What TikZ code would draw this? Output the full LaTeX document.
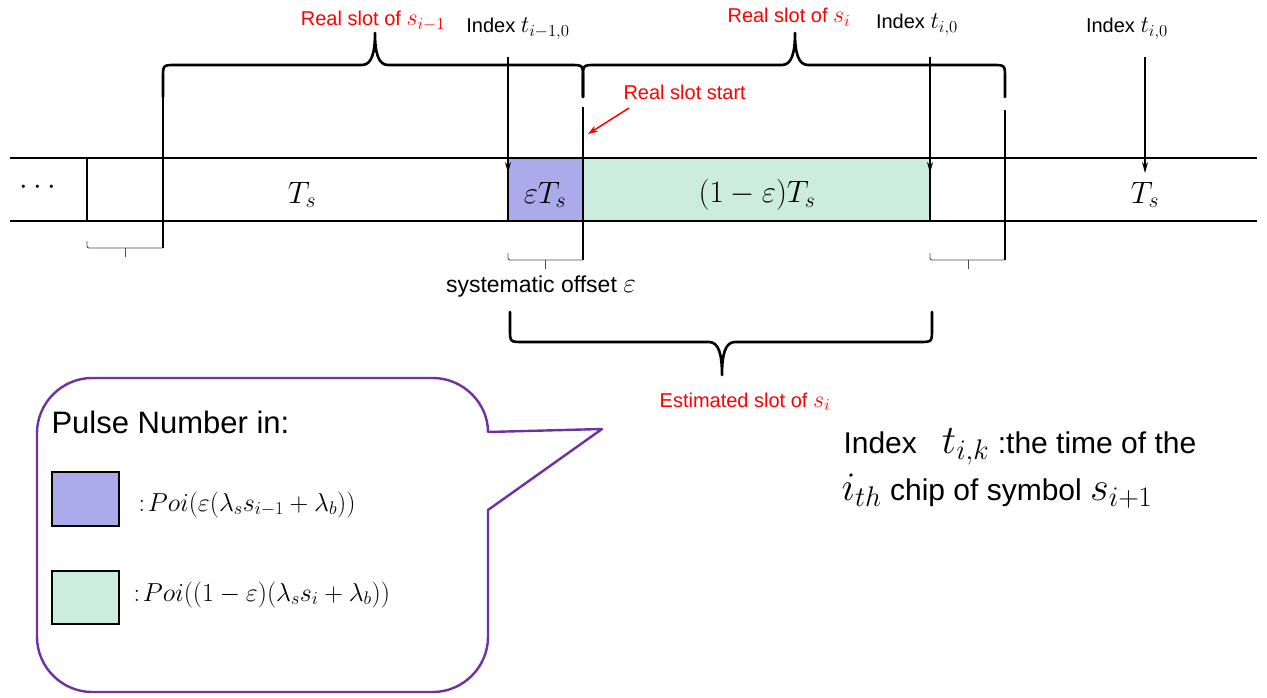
\RequirePackage{fix-cm}
\documentclass[tikz,border=0pt]{standalone}
\usepackage{fontspec}
\setmainfont{Liberation Sans}
\usetikzlibrary{arrows.meta}
\definecolor{epsfill}{RGB}{171,170,234}
\definecolor{restfill}{RGB}{204,236,221}
\definecolor{bubbleline}{RGB}{112,48,160}
% math a little larger than the text around it
\newcommand{\mth}[2][1.2]{\scalebox{#1}{$#2$}}
\tikzset{
  axis line/.style={line width=1.6pt},
  brace line/.style={line width=2.6pt, line join=round, line cap=round},
  bracket line/.style={line width=0.9pt, black!70, rounded corners=2pt},
  index arrow/.style={-{Stealth[length=11pt,width=6pt]}, line width=1.3pt},
  small label/.style={anchor=base, font=\fontsize{20}{24}\selectfont},
  red label/.style={small label, text=red},
  slot label/.style={font=\fontsize{31}{34}\selectfont},
  formula/.style={anchor=base west, font=\fontsize{26}{30}\selectfont},
  note/.style={anchor=base west, font=\fontsize{30}{34}\selectfont},
}

\begin{document}
\begin{tikzpicture}[x=1pt,y=-1pt]
\useasboundingbox (0,0) rectangle (1267,698);
% slot fills
\fill[epsfill] (508,158) rectangle (583,221);
\fill[restfill] (583,158) rectangle (930,221);
% time line
\draw[axis line] (10,158) -- (1257,158);
\draw[axis line] (10,221) -- (1257,221);
\draw[line width=2.4pt] (87,158) -- (87,221);
\draw[axis line] (508,158) -- (508,221);
\draw[axis line] (930,158) -- (930,221);
% real slot borders
\draw[line width=1.4pt] (163,97) -- (163,248);
\draw[line width=1.4pt] (583,107) -- (583,260);
\draw[line width=1.4pt] (1005,110) -- (1005,260);
\node[slot label] (dots) at (38,188) {$\cdots$};
\node[slot label] (tsprev) at (302,195) {$T_s$};
\node[slot label] (tseps) at (545,195) {$\varepsilon T_s$};
\node[slot label] (tsrest) at (757,195) {$(1-\varepsilon)T_s$};
\node[slot label] (tsnext) at (1145,195) {$T_s$};
% braces of the real slots
\draw[brace line] (163,97) -- (163,78) .. controls (163,65) .. (176,65) -- (362,65)
  .. controls (372,65) and (375,52) .. (375,33) .. controls (375,52) and (378,65) .. (388,65)
  -- (570,65) .. controls (583,65) .. (583,78) -- (583,97);
\draw[brace line] (583,97) -- (583,78) .. controls (583,65) .. (596,65) -- (782,65)
  .. controls (792,65) and (795,52) .. (795,33) .. controls (795,52) and (798,65) .. (808,65)
  -- (992,65) .. controls (1005,65) .. (1005,78) -- (1005,97);
\node[red label] (realprev) at (373,26) {Real slot of \mth{s_{i-1}}};
\node[red label] (realcur) at (789,23) {Real slot of \mth{s_i}};
% index arrows
\node[small label] (idxprev) at (518,33) {Index \mth{t_{i-1,0}}};
\node[small label] (idxcur) at (917,29) {Index \mth{t_{i,0}}};
\node[small label] (idxnext) at (1127,33) {Index \mth{t_{i,0}}};
\coordinate (aprev) at (508,57);
\coordinate (eprev) at (508,173);
\coordinate (acur) at (930,57);
\coordinate (ecur) at (930,173);
\coordinate (anext) at (1145,57);
\coordinate (enext) at (1145,173);
\draw[index arrow] (aprev) -- (eprev);
\draw[index arrow] (acur) -- (ecur);
\draw[index arrow] (anext) -- (enext);
% real slot start
\node[red label, anchor=base west] (slotstart) at (620,100) {Real slot start};
\coordinate (rsfrom) at (629,108);
\coordinate (rsto) at (588,134);
\draw[red, line width=1.5pt, -{Stealth[length=10pt,width=7pt]}] (rsfrom) -- (rsto);
% small brackets
\draw[bracket line] (87,241) -- (87,248) -- (163,248);
\draw[bracket line] (125,248) -- (125,257);
\draw[bracket line] (508,253) -- (508,260) -- (583,260);
\draw[bracket line] (545,260) -- (545,269);
\draw[bracket line] (930,253) -- (930,260) -- (1005,260);
\draw[bracket line] (968,260) -- (968,269);
\node[anchor=base, font=\fontsize{23}{26}\selectfont] (offset) at (541,292) {systematic offset \mth{\varepsilon}};
% estimated slot
\draw[brace line] (510,312) -- (510,329) .. controls (510,342) .. (523,342) -- (709,342)
  .. controls (719,342) and (722,355) .. (722,375) .. controls (722,355) and (725,342) .. (735,342)
  -- (919,342) .. controls (932,342) .. (932,329) -- (932,312);
\node[red label] (estimated) at (745,407) {Estimated slot of \mth{s_i}};
% legend bubble
\draw[bubbleline, line width=2.4pt, line join=round]
  (37,433) .. controls (37,403) and (62,378) .. (92,378) -- (433,378)
  .. controls (463,378) and (488,403) .. (488,432) -- (602,429) -- (488,510) -- (488,637)
  .. controls (488,667) and (463,692) .. (433,692) -- (92,692)
  .. controls (62,692) and (37,667) .. (37,637) -- cycle;
\node[anchor=base west, font=\fontsize{31}{36}\selectfont] (pulse) at (48,433) {Pulse Number in:};
\draw[fill=epsfill, line width=1.6pt] (52,472) rectangle (119,526);
\draw[fill=restfill, line width=1.6pt] (52,571) rectangle (119,624);
\node[formula] (poieps) at (135,511)
  {$:\!Poi\bigl(\varepsilon(\lambda_s s_{i-1}+\lambda_b)\bigr)$};
\node[formula] (poirest) at (130,601)
  {$:\!Poi\bigl((1-\varepsilon)(\lambda_s s_i+\lambda_b)\bigr)$};
% index note
\node[note] (note1) at (840,453) {Index\ \ \ \mth[1.35]{t_{i,k}} :the time of the};
\node[note] (note2) at (838,500) {\mth[1.35]{i_{th}} chip of symbol \mth[1.35]{s_{i+1}}};
\end{tikzpicture}
\end{document}
